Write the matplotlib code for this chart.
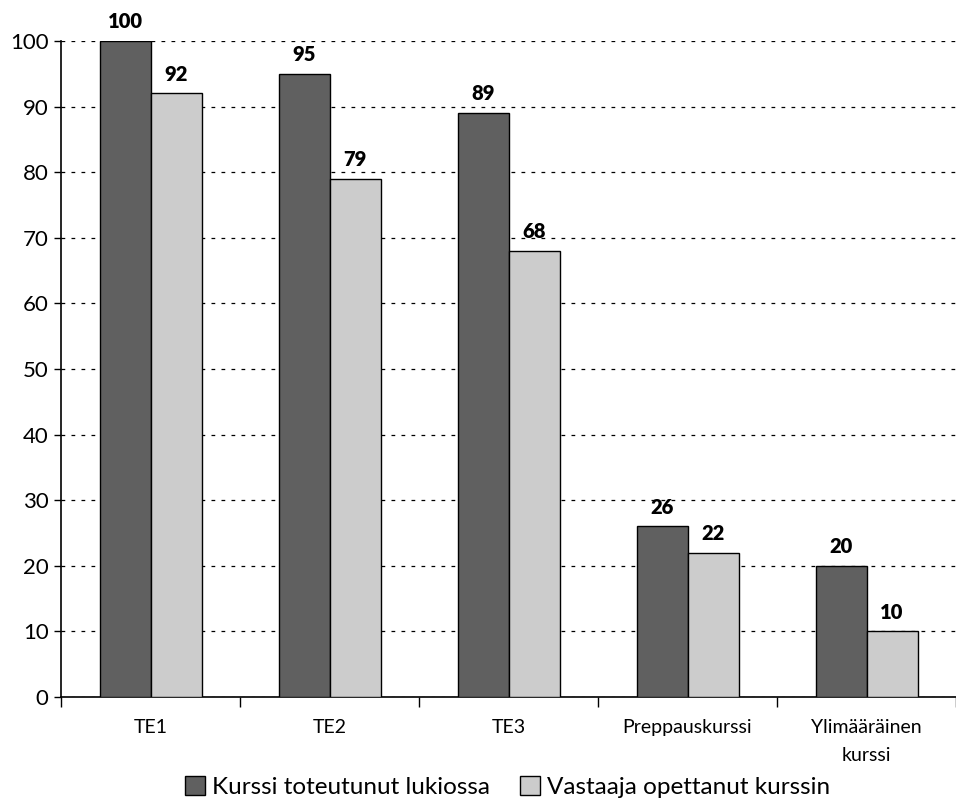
import numpy as np
import matplotlib
matplotlib.use("Agg")
from matplotlib import pyplot as plt
from matplotlib.patches import Patch

categories = ["TE1", "TE2", "TE3", "Preppauskurssi", "Ylimääräinen\nkurssi"]
toteutunut = [100, 95, 89, 26, 20]
opettanut = [92, 79, 68, 22, 10]
series_names = ["Kurssi toteutunut lukiossa", "Vastaaja opettanut kurssin"]

plt.rcParams['font.family'] = ['Lato', 'DejaVu Sans']

fig = plt.figure(figsize=(9.56, 8.02), dpi=100)
ax = fig.add_axes([0.064, 0.131, 0.936, 0.818])

x = np.arange(len(categories)) + 0.5
w = 0.285
dark = "#606060"
light = "#cccccc"

b1 = ax.bar(x - w / 2, toteutunut, w, color=dark, edgecolor="black", linewidth=1, zorder=3)
b2 = ax.bar(x + w / 2, opettanut, w, color=light, edgecolor="black", linewidth=1, zorder=3)

# value labels above each bar
for bars, vals in ((b1, toteutunut), (b2, opettanut)):
    for rect, v in zip(bars, vals):
        ax.annotate(str(v), (rect.get_x() + rect.get_width() / 2, v),
                    xytext=(0, 7), textcoords="offset points",
                    ha="center", va="bottom", fontsize=14.5, fontweight="heavy",
                    annotation_clip=False)

ax.set_xlim(0, 5)
ax.set_ylim(0, 100)
ax.set_yticks(range(0, 101, 10))
ax.set_yticklabels([str(v) for v in range(0, 101, 10)], fontsize=16)
ax.tick_params(axis="y", length=5, width=1, direction="out", pad=4)
ax.set_xticks(range(0, 6))
ax.set_xticklabels([])
ax.set_xticks(x, minor=True)
ax.set_xticklabels(categories, minor=True, fontsize=14, linespacing=1.75)
ax.tick_params(axis="x", which="minor", length=0, pad=16)
ax.tick_params(axis="x", which="major", length=7, width=1, direction="out")

ax.yaxis.grid(True, linestyle=(0, (3, 5)), color="black", linewidth=0.9, zorder=0)
ax.set_axisbelow(True)
for s in ("top", "right"):
    ax.spines[s].set_visible(False)
for s in ("left", "bottom"):
    ax.spines[s].set_linewidth(1.2)

handles = [Patch(facecolor=dark, edgecolor="black"), Patch(facecolor=light, edgecolor="black")]
fig.legend(handles, series_names, loc="lower center", bbox_to_anchor=(0.531, -0.022),
           ncol=2, frameon=False, handlelength=0.8, handleheight=0.8,
           handletextpad=0.3, columnspacing=1.25, prop={"size": 17.5})

fig.savefig("out.png", dpi=100)
